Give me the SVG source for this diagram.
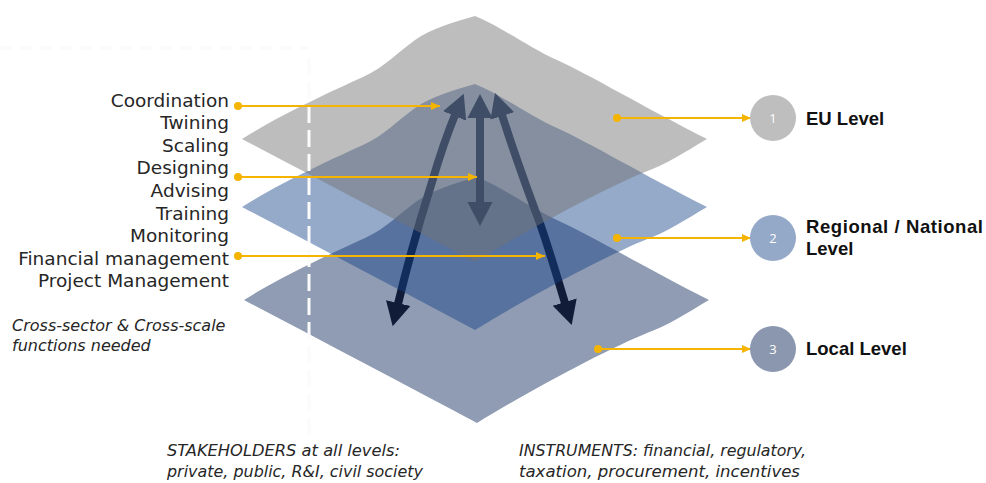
<svg xmlns="http://www.w3.org/2000/svg" xmlns:xlink="http://www.w3.org/1999/xlink" width="986" height="483" viewBox="0 0 986 483">
<style>
.lbl{font-family:"DejaVu Sans","Liberation Sans",sans-serif;font-size:18.5px;fill:#262626;text-anchor:end}
.it{font-family:"DejaVu Sans","Liberation Sans",sans-serif;font-style:italic;font-size:16px;fill:#262626}
.lvl{font-family:"Liberation Sans","DejaVu Sans",sans-serif;font-weight:bold;font-size:18.5px;fill:#111}
.num{font-family:"Open Sans","DejaVu Sans",sans-serif;font-size:13px;fill:#fff;text-anchor:middle}
.yl{stroke:#f4b400;stroke-width:2;fill:none;marker-start:url(#yd);marker-end:url(#ya)}
.ar{stroke:#111c38;stroke-width:8;fill:none;marker-start:url(#nh);marker-end:url(#nh)}
.dash{stroke:#fbfbfb;stroke-width:3;fill:none}
</style>
<defs>
<path id="layer" d="M242,139 C280,115 330,92 363,77 C385,67 398,52 415,40 C432,28 455,22 475,16 C500,26 530,48 557,60 C590,75 640,105 707,139 C685,152 665,165 645,172 C610,186 530,228 475,262 C400,222 320,180 242,139 Z"/>
<marker id="yd" viewBox="-5 -5 10 10" markerWidth="10" markerHeight="10" refX="0" refY="0" markerUnits="userSpaceOnUse"><circle r="4" fill="#f4b400"/></marker>
<marker id="ya" viewBox="0 -5 10 10" markerWidth="10" markerHeight="10" refX="9" refY="0" orient="auto" markerUnits="userSpaceOnUse"><path d="M0,-4 L9,0 L0,4 Z" fill="#f4b400"/></marker>
<marker id="nh" viewBox="0 -13 25 26" markerWidth="25" markerHeight="26" refX="1" refY="0" orient="auto-start-reverse" markerUnits="userSpaceOnUse"><path d="M0,-12.5 L24,0 L0,12.5 Z" fill="#111c38"/></marker>
</defs>

<g id="layer-local"><use xlink:href="#layer" href="#layer" transform="translate(2,161)" fill="#8f9cb3"/></g>

<g id="connectors-arrows">
<path class="ar" d="M398,304 C408,262 420,220 432,182 C440,155 448,132 455,115"/>
<path class="ar" d="M480,203 L480,117"/>
<path class="ar" d="M565,303 C555,270 545,235 535,210 C522,175 510,140 502,115"/>
</g>

<g id="layer-regional"><use xlink:href="#layer" href="#layer" transform="translate(0,68)" fill="#144087" fill-opacity="0.45"/></g>
<g id="layer-eu"><use xlink:href="#layer" href="#layer" fill="#737373" fill-opacity="0.47"/></g>

<g id="divider">
<path class="dash" d="M0,48 L309,48" stroke-dasharray="12,8"/>
<path class="dash" d="M309,58 L309,437" stroke-dasharray="17,7"/>
</g>

<g id="connectors">
<path class="yl" d="M238,106 L440,106"/>
<path class="yl" d="M238,177 L477,177"/>
<path class="yl" d="M238,256 L545,256"/>
<path class="yl" d="M617,118 L751,118"/>
<path class="yl" d="M617,238 L751,238"/>
<path class="yl" d="M598,349 L751,349"/>
</g>

<g id="functions">
<text class="lbl" x="229" y="106.5">Coordination</text>
<text class="lbl" x="229" y="129.1">Twining</text>
<text class="lbl" x="229" y="151.7">Scaling</text>
<text class="lbl" x="229" y="174.3">Designing</text>
<text class="lbl" x="229" y="196.9">Advising</text>
<text class="lbl" x="229" y="219.5">Training</text>
<text class="lbl" x="229" y="242.1">Monitoring</text>
<text class="lbl" x="229" y="264.7">Financial management</text>
<text class="lbl" x="229" y="287.3">Project Management</text>
</g>

<g id="note">
<text class="it" x="12" y="331">Cross-sector &amp; Cross-scale</text>
<text class="it" x="12" y="351">functions needed</text>
</g>

<g id="level-eu">
<circle cx="773" cy="118" r="23" fill="#bebebe"/>
<text class="num" x="773" y="123">1</text>
<text class="lvl" x="806" y="125">EU Level</text>
</g>
<g id="level-regional">
<circle cx="773" cy="238" r="23" fill="#94a8c8"/>
<text class="num" x="773" y="243">2</text>
<text class="lvl" x="806" y="233" textLength="177" lengthAdjust="spacing">Regional / National</text>
<text class="lvl" x="806" y="255">Level</text>
</g>
<g id="level-local">
<circle cx="773" cy="349" r="23" fill="#8a97ae"/>
<text class="num" x="773" y="354">3</text>
<text class="lvl" x="806" y="355">Local Level</text>
</g>

<g id="stakeholders">
<text class="it" x="167" y="456" font-size="16.5" textLength="233" lengthAdjust="spacingAndGlyphs">STAKEHOLDERS at all levels:</text>
<text class="it" x="167" y="477" font-size="16.5" textLength="256" lengthAdjust="spacingAndGlyphs">private, public, R&amp;I, civil society</text>
</g>
<g id="instruments">
<text class="it" x="519" y="456" font-size="16.5" textLength="287" lengthAdjust="spacingAndGlyphs">INSTRUMENTS: financial, regulatory,</text>
<text class="it" x="519" y="477" font-size="16.5" textLength="281" lengthAdjust="spacingAndGlyphs">taxation, procurement, incentives</text>
</g>
</svg>
